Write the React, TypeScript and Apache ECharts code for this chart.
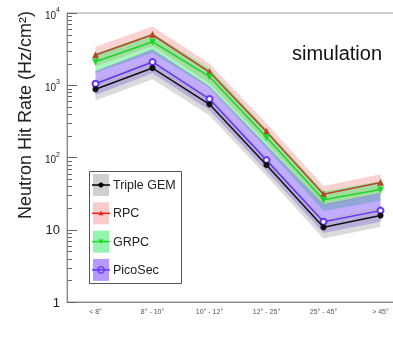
import React, { useEffect, useRef } from "react";
import * as echarts from "echarts";

const categories = ["< 8°", "8° - 10°", "10° - 12°", "12° - 25°", "25° - 45°", "> 45°"];
const tripleGEM = [880, 1730, 545, 79, 10.8, 15.7];
const rpc = [2620, 5000, 1525, 228, 31, 45];
const grpc = [2120, 4000, 1313, 190, 26, 36];
const picoSec = [1050, 2100, 645, 92, 12.9, 18.4];

// relative band half-widths (up / down) read from the shaded regions
const gemUp = [0.3, 0.3, 0.3, 0.3, 0.3, 0.3];
const gemDown = [0.3, 0.3, 0.3, 0.3, 0.3, 0.3];
const rpcUp = [0.3, 0.3, 0.3, 0.3, 0.3, 0.3];
const rpcDown = [0.3, 0.3, 0.3, 0.3, 0.3, 0.3];
const grpcUp = [0.3, 0.3, 0.3, 0.3, 0.3, 0.3];
const grpcDown = [0.3, 0.3, 0.3, 0.3, 0.3, 0.3];
const picoUp = [0.5, 0.5, 0.5, 0.6, 0.75, 0.75];
const picoDown = [0.3, 0.3, 0.3, 0.3, 0.3, 0.3];

const yTicks = [1, 10, 100, 1000, 10000];

const FONT = "Liberation Sans, Arial, sans-serif";

function bandSeries(name: string, vals: number[], up: number[], down: number[], color: string, z: number) {
  return {
    type: "custom",
    name: name + " band",
    z,
    silent: true,
    data: vals.map((v, i) => [i, v]),
    encode: { x: 0, y: 1 },
    renderItem: (params: any, api: any) => {
      if (params.dataIndex !== 0) return { type: "group", children: [] };
      const top = vals.map((v, i) => api.coord([i, v * (1 + up[i])]));
      const bot = vals.map((v, i) => api.coord([i, v * (1 - down[i])])).reverse();
      return {
        type: "polygon",
        shape: { points: top.concat(bot) },
        style: { fill: color, stroke: "none" },
      };
    },
  };
}

function lineSeries(name: string, vals: number[], color: string, symbol: string, size: number, z: number, rotate = 0) {
  return {
    type: "line",
    name,
    z,
    data: vals,
    symbol,
    symbolSize: size,
    symbolRotate: rotate,
    showAllSymbol: true,
    lineStyle: { color, width: 1.5 },
    itemStyle: { color, borderColor: color, borderWidth: 1.2 },
    emphasis: { disabled: true },
  };
}

export default function App() {
  const ref = useRef<HTMLDivElement>(null);
  useEffect(() => {
    if (!ref.current) return;
    const chart = echarts.init(ref.current, null, { renderer: "svg" });

    const legendItems = [
      { label: "Triple GEM", fill: "rgba(170,170,170,0.55)", color: "#000", kind: "dot" },
      { label: "RPC", fill: "rgba(245,140,140,0.45)", color: "#e8231f", kind: "tri" },
      { label: "GRPC", fill: "rgba(40,235,90,0.5)", color: "#1ed62a", kind: "tri2" },
      { label: "PicoSec", fill: "rgba(120,70,250,0.55)", color: "#6633ff", kind: "open" },
    ];
    const legendChildren: any[] = [
      { type: "rect", shape: { x: 89.5, y: 171.5, width: 92, height: 112 }, style: { fill: "#fff", stroke: "#555", lineWidth: 1 } },
    ];
    legendItems.forEach((it, k) => {
      const cy = 185 + k * 28.3;
      legendChildren.push({ type: "rect", shape: { x: 93, y: cy - 11, width: 16, height: 22 }, style: { fill: it.fill } });
      legendChildren.push({ type: "line", shape: { x1: 92, y1: cy, x2: 110, y2: cy }, style: { stroke: it.color, lineWidth: 1.5 } });
      if (it.kind === "dot") legendChildren.push({ type: "circle", shape: { cx: 101, cy, r: 2.5 }, style: { fill: it.color } });
      if (it.kind === "tri") legendChildren.push({ type: "polygon", shape: { points: [[101, cy - 2.5], [98.5, cy + 2], [103.5, cy + 2]] }, style: { fill: it.color } });
      if (it.kind === "tri2") legendChildren.push({ type: "polygon", shape: { points: [[101, cy + 2.5], [98.5, cy - 2], [103.5, cy - 2]] }, style: { fill: it.color } });
      if (it.kind === "open") legendChildren.push({ type: "circle", shape: { cx: 101, cy, r: 3.2 }, style: { fill: "none", stroke: it.color, lineWidth: 1.2 } });
      legendChildren.push({ type: "text", style: { x: 113, y: cy, text: it.label, fill: "#222", font: `12.5px ${FONT}`, verticalAlign: "middle" } });
    });

    const option: any = {
      animation: false,
      grid: { left: 67, top: 13, right: -16, bottom: 39, outerBoundsMode: "none", containLabel: false, show: true, borderColor: "#9a9a9a", borderWidth: 1, backgroundColor: "transparent" },
      xAxis: {
        type: "category",
        data: categories,
        boundaryGap: true,
        axisLine: { lineStyle: { color: "#8a8a8a", width: 1 } },
        axisTick: { inside: true, length: 8, alignWithLabel: true, lineStyle: { color: "#666" } },
        axisLabel: { interval: 0, fontSize: 7, color: "#555", margin: 6, fontFamily: FONT },
        splitLine: { show: false },
      },
      yAxis: {
        type: "log",
        logBase: 10,
        min: yTicks[0],
        max: yTicks[yTicks.length - 1],
        axisLine: { show: true, lineStyle: { color: "#8a8a8a", width: 1 } },
        axisTick: { show: true, inside: true, length: 10, lineStyle: { color: "#666" } },
        splitLine: { show: false },
        axisLabel: {
          margin: 7,
          fontFamily: FONT,
          color: "#222",
          formatter: (v: number) => {
            if (v >= 100) return `{b|10}{s|${Math.round(Math.log10(v))}}`;
            return `{n|${Math.round(v)}}`;
          },
          rich: {
            b: { fontSize: 10, fontFamily: FONT, color: "#222", lineHeight: 14, verticalAlign: "bottom" },
            s: { fontSize: 7, fontFamily: FONT, color: "#222", lineHeight: 14, verticalAlign: "top" },
            n: { fontSize: 13, fontFamily: FONT, color: "#222" },
          },
        },
      },
      series: [
        bandSeries("RPC", rpc, rpcUp, rpcDown, "rgba(245,140,140,0.4)", 1),
        bandSeries("GRPC", grpc, grpcUp, grpcDown, "rgba(40,235,90,0.42)", 2),
        bandSeries("PicoSec", picoSec, picoUp, picoDown, "rgba(120,70,250,0.45)", 3),
        bandSeries("Triple GEM", tripleGEM, gemUp, gemDown, "rgba(175,175,175,0.45)", 4),
        lineSeries("RPC", rpc, "#b5472a", "triangle", 5, 10),
        lineSeries("GRPC", grpc, "#1ed62a", "triangle", 5, 11, 180),
        lineSeries("PicoSec", picoSec, "#6633ff", "emptyCircle", 6, 12),
        lineSeries("Triple GEM", tripleGEM, "#111", "circle", 5, 13),
      ],
      graphic: [
        { type: "group", z: 100, children: legendChildren },
        { type: "text", z: 100, style: { x: 292, y: 43, text: "simulation", fill: "#111", font: `20px ${FONT}`, verticalAlign: "alphabetic" } },
        { type: "text", z: 100, x: 25, y: 115, rotation: Math.PI / 2, style: { x: 0, y: 0, text: "Neutron Hit Rate (Hz/cm²)", fill: "#222", font: `18px ${FONT}`, align: "center", verticalAlign: "middle" } },
      ],
    };
    chart.setOption(option);

    // minor log ticks
    const minor: any[] = [];
    const axisX = 67;
    for (let d = 0; d < yTicks.length - 1; d++) {
      for (let m = 2; m <= 9; m++) {
        const y = chart.convertToPixel({ yAxisIndex: 0 }, m * yTicks[d]) as number;
        minor.push({ type: "line", shape: { x1: axisX, y1: Math.round(y) + 0.5, x2: axisX + 5, y2: Math.round(y) + 0.5 }, style: { stroke: "#666", lineWidth: 1 } });
      }
    }
    chart.setOption({ graphic: [...option.graphic, { type: "group", z: 50, children: minor }] });

    return () => chart.dispose();
  }, []);
  return <div ref={ref} style={{ position: "fixed", left: 0, top: 0, width: 393, height: 341 }} />;
}
